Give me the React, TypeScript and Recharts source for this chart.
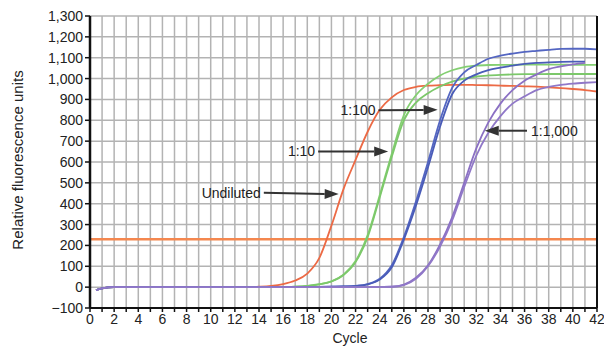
import { LineChart, Line, XAxis, YAxis, CartesianGrid, ReferenceLine } from 'recharts'

// cycle 0.5 is where the traces begin
const cycles = [0.5, 1, 2, 3, 4, 5, 6, 7, 8, 9, 10, 11, 12, 13, 14, 15, 16, 17, 18, 19, 20, 21, 22, 23, 24, 25, 26, 27, 28, 29, 30, 31, 32, 33, 34, 35, 36, 37, 38, 39, 40, 41, 42]

const undiluted = [-14, -6, 0, 0, 0, 0, 0, 0, 0, 0, 0, 0, 0, 0, 2, 6, 15, 32, 65, 140, 295, 470, 610, 745, 850, 910, 945, 960, 966, 968, 970, 970, 969, 968, 966, 965, 963, 961, 958, 954, 950, 945, 938]
const dil10a = [-14, -6, 0, 0, 0, 0, 0, 0, 0, 0, 0, 0, 0, 0, 0, 0, 0, 2, 6, 14, 28, 60, 125, 250, 440, 640, 825, 920, 975, 1015, 1040, 1055, 1062, 1065, 1066, 1066, 1067, 1067, 1067, 1067, 1066, 1066, 1066]
const dil10b = [-14, -6, 0, 0, 0, 0, 0, 0, 0, 0, 0, 0, 0, 0, 0, 0, 0, 2, 6, 13, 27, 58, 120, 240, 430, 625, 800, 885, 930, 962, 985, 1000, 1010, 1015, 1018, 1020, 1021, 1021, 1022, 1022, 1022, 1022, 1022]
const dil100a = [-14, -6, 0, 0, 0, 0, 0, 0, 0, 0, 0, 0, 0, 0, 0, 0, 0, 0, 0, 1, 2, 3, 6, 15, 40, 105, 240, 410, 600, 800, 955, 1030, 1065, 1095, 1110, 1120, 1128, 1133, 1138, 1142, 1143, 1143, 1140]
const dil100b = [-14, -6, 0, 0, 0, 0, 0, 0, 0, 0, 0, 0, 0, 0, 0, 0, 0, 0, 0, 1, 2, 3, 5, 13, 36, 95, 228, 390, 575, 770, 925, 990, 1020, 1040, 1052, 1062, 1070, 1075, 1078, 1080, 1081, 1081, null]
const dil1000a = [-14, -6, 0, 0, 0, 0, 0, 0, 0, 0, 0, 0, 0, 0, 0, 0, 0, 0, 0, 0, 0, 0, 0, 0, 1, 2, 12, 45, 105, 205, 335, 500, 665, 790, 880, 945, 990, 1020, 1045, 1058, 1068, 1075, null]
const dil1000b = [-14, -6, 0, 0, 0, 0, 0, 0, 0, 0, 0, 0, 0, 0, 0, 0, 0, 0, 0, 0, 0, 0, 0, 0, 1, 2, 10, 40, 100, 195, 320, 480, 630, 740, 820, 880, 915, 945, 960, 970, 976, 980, 983]

const threshold = 230

const xTicks = [0, 1, 2, 3, 4, 5, 6, 7, 8, 9, 10, 11, 12, 13, 14, 15, 16, 17, 18, 19, 20, 21, 22, 23, 24, 25, 26, 27, 28, 29, 30, 31, 32, 33, 34, 35, 36, 37, 38, 39, 40, 41, 42]
const yTicks = [-100, 0, 100, 200, 300, 400, 500, 600, 700, 800, 900, 1000, 1100, 1200, 1300]

// arrow labels: text, arrow start (x, y) and tip (x, y) in data units
const arrows = [
  { text: 'Undiluted', from: [14.4, 452], to: [20.6, 446], side: 'left' },
  { text: '1:10', from: [18.9, 650], to: [24.7, 650], side: 'left' },
  { text: '1:100', from: [23.9, 848], to: [28.8, 850], side: 'left' },
  { text: '1:1,000', from: [36.2, 750], to: [32.7, 750], side: 'right' },
]

const rows = cycles.map((c, i) => ({
  cycle: c,
  undiluted: undiluted[i],
  dil10a: dil10a[i],
  dil10b: dil10b[i],
  dil100a: dil100a[i],
  dil100b: dil100b[i],
  dil1000a: dil1000a[i],
  dil1000b: dil1000b[i],
}))

const FONT = '"Liberation Sans", Arial, sans-serif'

const fmtY = (v: number) => (v < 0 ? '\u2212' + Math.abs(v) : v.toLocaleString('en-US'))

function Arrow(props: any) {
  const { x1, y1, x2, y2, text, side } = props
  const ang = Math.atan2(y2 - y1, x2 - x1)
  const len = 14
  const w = 5
  const bx = x2 - len * Math.cos(ang)
  const by = y2 - len * Math.sin(ang)
  const px = -Math.sin(ang) * w
  const py = Math.cos(ang) * w
  return (
    <g>
      <line x1={x1} y1={y1} x2={bx} y2={by} stroke="#333" strokeWidth={2} />
      <polygon points={`${x2},${y2} ${bx + px},${by + py} ${bx - px},${by - py}`} fill="#333" />
      <text
        x={side === 'left' ? x1 - 3 : x1 + 4}
        y={y1}
        dy="0.35em"
        textAnchor={side === 'left' ? 'end' : 'start'}
        fontFamily={FONT}
        fontSize={14}
        fill="#222"
      >
        {text}
      </text>
    </g>
  )
}

export default function App() {
  return (
    <div style={{ position: 'absolute', left: 0, top: 0, background: '#fff' }}>
      <LineChart width={604} height={346} data={rows} margin={{ top: 16, right: 0, bottom: 0, left: 0 }}>
        <CartesianGrid stroke="#b3b3b3" strokeWidth={1.5} />
        <XAxis
          dataKey="cycle"
          type="number"
          domain={[0, 42]}
          ticks={xTicks}
          interval={0}
          tickFormatter={(v) => (v % 2 === 0 ? String(v) : '')}
          height={38}
          axisLine={{ stroke: '#111', strokeWidth: 2 }}
          tickLine={{ stroke: '#111', strokeWidth: 1.5 }}
          tickSize={4}
          tick={{ fontSize: 14, fill: '#222', fontFamily: FONT }}
          label={{
            content: () => (
              <text x={350} y={338} dy="0.35em" textAnchor="middle" fontFamily={FONT} fontSize={14} fill="#222">
                Cycle
              </text>
            ),
          }}
        />
        <YAxis
          type="number"
          domain={[-100, 1300]}
          ticks={yTicks}
          interval={0}
          width={90}
          tickFormatter={fmtY}
          axisLine={{ stroke: '#111', strokeWidth: 2.5 }}
          tickLine={{ stroke: '#111', strokeWidth: 1.5 }}
          tickSize={5}
          tick={{ fontSize: 14, fill: '#222', fontFamily: FONT }}
          label={{
            content: () => (
              <text
                x={18}
                y={160}
                dy="0.35em"
                textAnchor="middle"
                transform="rotate(-90, 18, 160)"
                fontFamily={FONT}
                fontSize={15}
                fill="#222"
              >
                Relative fluorescence units
              </text>
            ),
          }}
        />
        <YAxis
          yAxisId="right"
          orientation="right"
          type="number"
          domain={[-100, 1300]}
          ticks={yTicks}
          interval={0}
          width={7}
          tick={false}
          axisLine={{ stroke: '#111', strokeWidth: 2 }}
          tickLine={{ stroke: '#111', strokeWidth: 1.5 }}
          tickSize={4}
        />
        <ReferenceLine y={threshold} stroke="#f4874f" strokeWidth={2.5} />
        <Line type="monotone" dataKey="undiluted" stroke="#ec6a45" strokeWidth={1.8} dot={false} isAnimationActive={false} />
        <Line type="monotone" dataKey="dil10a" stroke="#84cf72" strokeWidth={1.8} dot={false} isAnimationActive={false} />
        <Line type="monotone" dataKey="dil10b" stroke="#7cc86a" strokeWidth={1.8} dot={false} isAnimationActive={false} />
        <Line type="monotone" dataKey="dil100a" stroke="#5466c2" strokeWidth={1.8} dot={false} isAnimationActive={false} />
        <Line type="monotone" dataKey="dil100b" stroke="#4a5cb8" strokeWidth={1.8} dot={false} isAnimationActive={false} />
        <Line type="monotone" dataKey="dil1000a" stroke="#8b70c4" strokeWidth={1.8} dot={false} isAnimationActive={false} />
        <Line type="monotone" dataKey="dil1000b" stroke="#9078c8" strokeWidth={1.8} dot={false} isAnimationActive={false} />
        {arrows.map((a) => (
          <ReferenceLine
            key={a.text}
            segment={[
              { x: a.from[0], y: a.from[1] },
              { x: a.to[0], y: a.to[1] },
            ]}
            shape={(p: any) => <Arrow {...p} text={a.text} side={a.side} />}
          />
        ))}
      </LineChart>
    </div>
  )
}
